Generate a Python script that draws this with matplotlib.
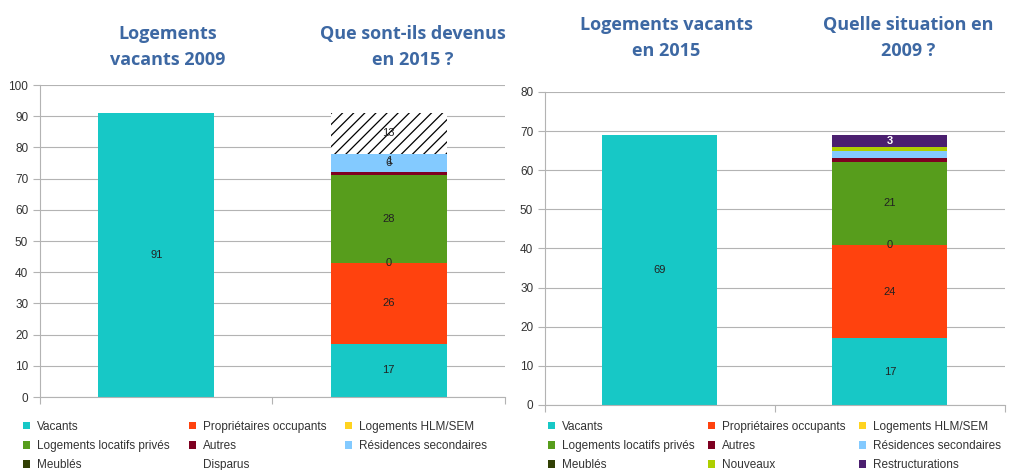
import matplotlib.pyplot as plt
from matplotlib.patches import Patch

plt.rcParams['font.family'] = ['Liberation Sans', 'DejaVu Sans']
plt.rcParams['hatch.linewidth'] = 0.9

# left chart : logements vacants 2009, devenir en 2015
left_series = ['Vacants', 'Propriétaires occupants', 'Logements HLM/SEM',
               'Logements locatifs privés', 'Autres', 'Résidences secondaires',
               'Meublés', 'Disparus']
left_bar1 = [91, 0, 0, 0, 0, 0, 0, 0]
left_bar2 = [17, 26, 0, 28, 1, 6, 0, 13]
left_labels1 = ['91', '', '', '', '', '', '', '']
left_labels2 = ['17', '26', '0', '28', '', '6', '', '13']
left_titles = ['Logements\nvacants 2009', 'Que sont-ils devenus\nen 2015 ?']

# right chart : logements vacants 2015, situation en 2009
right_series = ['Vacants', 'Propriétaires occupants', 'Logements HLM/SEM',
                'Logements locatifs privés', 'Autres', 'Résidences secondaires',
                'Meublés', 'Nouveaux', 'Restructurations']
right_bar1 = [69, 0, 0, 0, 0, 0, 0, 0, 0]
right_bar2 = [17, 24, 0, 21, 1, 2, 0, 1, 3]
right_labels1 = ['69', '', '', '', '', '', '', '', '']
right_labels2 = ['17', '24', '0', '21', '', '', '', '', '3']
right_titles = ['Logements vacants\nen 2015', 'Quelle situation en\n2009 ?']

colors = {
    'Vacants': '#17c8c6',
    'Propriétaires occupants': '#ff420e',
    'Logements HLM/SEM': '#ffd320',
    'Logements locatifs privés': '#579d1c',
    'Autres': '#7e0021',
    'Résidences secondaires': '#83caff',
    'Meublés': '#314004',
    'Disparus': 'white',
    'Nouveaux': '#aecf00',
    'Restructurations': '#4b1f6f',
}
title_color = '#3d68a3'


def draw(ax, series, bar1, bar2, labels1, labels2, ymax):
    bottoms = [0, 0]
    for i, name in enumerate(series):
        vals = [bar1[i], bar2[i]]
        hatch = '///' if name == 'Disparus' else None
        bars = ax.bar([0, 1], vals, 0.5, bottom=bottoms, color=colors[name],
                      edgecolor='black' if hatch else colors[name],
                      linewidth=0, hatch=hatch, zorder=2)
        txt_col = 'white' if name == 'Restructurations' else '#222222'
        weight = 'bold' if name == 'Restructurations' else 'normal'
        ax.bar_label(bars, labels=[labels1[i], labels2[i]], label_type='center',
                     fontsize=8, color=txt_col, fontweight=weight)
        bottoms = [bottoms[0] + vals[0], bottoms[1] + vals[1]]
    ax.set_xlim(-0.5, 1.5)
    ax.set_ylim(0, ymax)
    ax.set_yticks(range(0, ymax + 1, 10))
    ax.set_xticks([-0.5, 0.5, 1.5])
    ax.set_xticklabels([])
    ax.tick_params(axis='y', labelsize=8.5, colors='#b3b3b3', labelcolor='#333333',
                   length=5)
    ax.tick_params(axis='x', colors='#b3b3b3', length=5)
    ax.yaxis.grid(True, color='#b3b3b3', linewidth=0.8, zorder=0)
    ax.set_axisbelow(True)
    for s in ['top', 'right']:
        ax.spines[s].set_visible(False)
    for s in ['left', 'bottom']:
        ax.spines[s].set_color('#b3b3b3')


def legend_order(series):
    # matplotlib fills columns first, reference reads row by row
    idx = list(range(len(series)))
    rows = [idx[k:k + 3] for k in range(0, len(idx), 3)]
    order = []
    for c in range(3):
        for r in rows:
            if c < len(r):
                order.append(r[c])
    return order


fig = plt.figure(figsize=(10.1, 4.7), dpi=100)
ax1 = fig.add_axes([0.0396, 0.1553, 0.4604, 0.6638])
ax2 = fig.add_axes([0.5396, 0.1383, 0.4554, 0.6660])

draw(ax1, left_series, left_bar1, left_bar2, left_labels1, left_labels2, 100)
draw(ax2, right_series, right_bar1, right_bar2, right_labels1, right_labels2, 80)

# label of the thin "Autres" slice sits over the next one in the reference
res_mid = sum(left_bar2[:5]) + left_bar2[5] / 2
ax1.text(1, res_mid + 0.8, str(left_bar2[4]), ha='center', va='center',
         fontsize=8, color='#222222')

for ax, series, anchor, colsp in [(ax1, left_series, (0.017, 0.117), 1.6),
                                  (ax2, right_series, (0.537, 0.117), 1.1)]:
    order = legend_order(series)
    handles = [Patch(facecolor=colors[series[k]], edgecolor='none') for k in order]
    fig.legend(handles, [series[k] for k in order], ncol=3, loc='upper left',
               bbox_to_anchor=anchor, frameon=False, fontsize=8.5,
               handlelength=0.6, handleheight=0.6, handletextpad=0.6,
               columnspacing=colsp, labelspacing=0.6, borderpad=0,
               labelcolor='#333333')

title_kw = dict(ha='center', va='center', fontsize=13, fontweight='bold',
                color=title_color, family=['Open Sans', 'DejaVu Sans'],
                linespacing=1.6)
fig.text(0.166, 0.90, left_titles[0], **title_kw)
fig.text(0.409, 0.90, left_titles[1], **title_kw)
fig.text(0.660, 0.919, right_titles[0], **title_kw)
fig.text(0.899, 0.919, right_titles[1], **title_kw)

fig.savefig('out.png', dpi=100)
